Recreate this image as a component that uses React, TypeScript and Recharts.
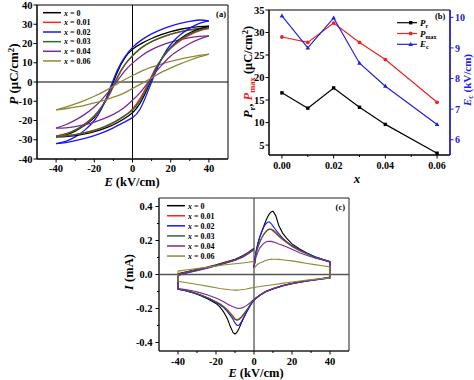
import React from 'react';
import { LineChart, Line, XAxis, YAxis, ReferenceLine, ReferenceArea, Legend } from 'recharts';

const FONT = '"Liberation Serif", "Times New Roman", Times, serif';

// compositions (x) and their colours
const X_LABELS = ['0', '0.01', '0.02', '0.03', '0.04', '0.06'];
const COLORS = ['#000000', '#ff1f1f', '#1515ff', '#2e6b2e', '#7a2898', '#8b8a35'];

// (a) P–E loops: descending branch (+40 -> -40) and ascending branch (-40 -> +40)
const E_DOWN = [40, 35, 30, 25, 20, 15, 10, 5, 0, -4, -8, -12, -16, -20, -25, -30, -35, -40];
const E_UP = [-40, -35, -30, -25, -20, -15, -10, -5, 0, 4, 8, 12, 16, 20, 25, 30, 35, 40];
const P_DOWN = [
  [29, 28.8, 28.3, 27.4, 26.2, 24.6, 22.6, 20.2, 17, 12.5, 5, -5, -13, -18.5, -22.5, -25.5, -27.5, -28.5],
  [27.8, 27.5, 26.9, 26, 24.8, 23.1, 21, 18, 13.5, 9, 2, -6.5, -13, -18, -22, -25, -27, -28],
  [31.8, 32.2, 31.5, 30.4, 29, 27.2, 25, 22, 18, 13, 6, -4, -13.5, -20, -25, -28.5, -30.8, -32],
  [28.3, 27.9, 27.2, 26.2, 24.9, 23.2, 21, 18, 13.8, 9, 2.5, -6, -12.5, -17.5, -21.8, -25, -27, -28.3],
  [24, 23.7, 23, 22, 20.7, 19, 16.8, 13.8, 9.8, 5.8, 0.5, -4.5, -9, -13, -16.8, -19.8, -22.2, -24],
  [14.5, 13.8, 12.9, 11.9, 10.7, 9.3, 7.7, 5.8, 3.4, 1.3, -1, -3.3, -5.5, -7.4, -9.5, -11.4, -13, -14.5],
];
const P_UP = [
  [-28.5, -28.4, -27.9, -27, -25.8, -24.2, -22.2, -19.5, -16, -11, -3, 6, 13, 18, 22.5, 25.5, 27.6, 29],
  [-28, -27.8, -27.3, -26.4, -25.2, -23.5, -21.2, -18.3, -14, -8.5, -1, 7, 13, 17.5, 21.5, 24.5, 26.5, 27.8],
  [-32, -31.5, -30.5, -29.3, -27.8, -26, -23.8, -21.2, -18.5, -14, -5, 5, 13.5, 19.5, 24.5, 28, 30.5, 31.8],
  [-28.3, -28, -27.3, -26.3, -25, -23.3, -21, -18, -14.5, -9.5, -2, 6.5, 13, 17.8, 22, 25, 27, 28.3],
  [-24, -23.8, -23.2, -22.2, -20.8, -19, -16.8, -13.8, -9.5, -5.5, -0.5, 5, 9.5, 13.5, 17, 20, 22.3, 24],
  [-14.5, -13.9, -13.1, -12.1, -10.9, -9.5, -7.9, -6, -3.4, -1.2, 1, 3.3, 5.5, 7.3, 9.4, 11.3, 13, 14.5],
];

// (b) parameters vs composition
const X_B = [0, 0.01, 0.02, 0.03, 0.04, 0.06];
const PR = [16.6, 13.2, 17.7, 13.4, 9.6, 3.2];
const PMAX = [29, 27.8, 32.1, 27.8, 24, 14.5];
const EC = [10.05, 9.0, 9.98, 8.5, 7.75, 6.5];

// (c) I–E loops, four segments per sample
const C_RISE_E = [0, 0.5, 1, 2, 3, 4, 5, 6, 7, 8, 9, 10, 11.5, 13, 15, 17, 20, 24, 28, 32, 36, 40];
const C_BACK_R_E = [40, 35, 30, 25, 20, 15, 10, 6, 3, 0];
const C_FALL_E = [-1, -2, -3, -4, -5, -6, -7, -8, -9, -10, -11, -12.5, -14, -16, -18, -20, -24, -28, -32, -36, -40];
const C_BACK_L_E = [-40, -35, -30, -25, -20, -15, -10, -6, -3, 0];
const I_RISE = [
  [0.04, 0.09, 0.13, 0.18, 0.22, 0.25, 0.28, 0.31, 0.335, 0.355, 0.368, 0.372, 0.345, 0.29, 0.245, 0.215, 0.18, 0.15, 0.125, 0.105, 0.09, 0.075],
  [0.04, 0.08, 0.12, 0.16, 0.19, 0.215, 0.235, 0.25, 0.262, 0.267, 0.264, 0.256, 0.24, 0.225, 0.205, 0.19, 0.165, 0.14, 0.12, 0.1, 0.087, 0.075],
  [0.04, 0.09, 0.13, 0.18, 0.22, 0.25, 0.275, 0.295, 0.307, 0.31, 0.3, 0.285, 0.262, 0.24, 0.215, 0.195, 0.17, 0.145, 0.125, 0.105, 0.09, 0.075],
  [0.04, 0.08, 0.12, 0.16, 0.19, 0.213, 0.232, 0.248, 0.26, 0.266, 0.267, 0.262, 0.248, 0.23, 0.21, 0.193, 0.168, 0.143, 0.122, 0.102, 0.088, 0.075],
  [0.04, 0.07, 0.1, 0.13, 0.155, 0.17, 0.182, 0.19, 0.194, 0.196, 0.195, 0.192, 0.187, 0.18, 0.172, 0.163, 0.148, 0.128, 0.112, 0.097, 0.085, 0.072],
  [0.035, 0.043, 0.05, 0.06, 0.067, 0.072, 0.077, 0.082, 0.085, 0.088, 0.089, 0.09, 0.09, 0.089, 0.087, 0.084, 0.08, 0.073, 0.065, 0.058, 0.051, 0.045],
];
const I_BACK_R = [
  [-0.015, -0.025, -0.033, -0.042, -0.052, -0.065, -0.083, -0.1, -0.122, -0.15],
  [-0.018, -0.026, -0.034, -0.043, -0.053, -0.066, -0.084, -0.102, -0.122, -0.148],
  [-0.02, -0.027, -0.035, -0.044, -0.054, -0.067, -0.085, -0.103, -0.124, -0.15],
  [-0.017, -0.026, -0.034, -0.043, -0.053, -0.066, -0.084, -0.101, -0.122, -0.147],
  [-0.02, -0.027, -0.035, -0.044, -0.054, -0.067, -0.085, -0.102, -0.122, -0.145],
  [-0.02, -0.025, -0.03, -0.037, -0.044, -0.052, -0.06, -0.066, -0.071, -0.076],
];
const I_FALL = [
  [-0.165, -0.18, -0.2, -0.22, -0.245, -0.27, -0.295, -0.32, -0.34, -0.35, -0.342, -0.305, -0.26, -0.22, -0.19, -0.17, -0.145, -0.125, -0.108, -0.095, -0.085],
  [-0.165, -0.18, -0.2, -0.215, -0.23, -0.245, -0.258, -0.266, -0.268, -0.26, -0.245, -0.225, -0.207, -0.188, -0.172, -0.16, -0.138, -0.12, -0.105, -0.093, -0.085],
  [-0.165, -0.185, -0.205, -0.225, -0.245, -0.265, -0.285, -0.3, -0.298, -0.285, -0.265, -0.24, -0.218, -0.195, -0.178, -0.163, -0.14, -0.122, -0.107, -0.095, -0.087],
  [-0.163, -0.178, -0.195, -0.21, -0.225, -0.24, -0.253, -0.262, -0.268, -0.265, -0.255, -0.233, -0.212, -0.19, -0.174, -0.161, -0.139, -0.121, -0.106, -0.094, -0.086],
  [-0.155, -0.165, -0.175, -0.183, -0.19, -0.195, -0.198, -0.2, -0.198, -0.194, -0.19, -0.182, -0.173, -0.16, -0.148, -0.138, -0.122, -0.108, -0.097, -0.089, -0.083],
  [-0.078, -0.08, -0.082, -0.085, -0.087, -0.088, -0.09, -0.091, -0.092, -0.092, -0.091, -0.09, -0.088, -0.085, -0.082, -0.078, -0.07, -0.062, -0.054, -0.047, -0.04],
];
const I_BACK_L = [
  [0.005, 0.018, 0.03, 0.043, 0.057, 0.073, 0.09, 0.11, 0.13, 0.155],
  [0.0, 0.014, 0.027, 0.04, 0.054, 0.07, 0.087, 0.106, 0.126, 0.15],
  [-0.005, 0.01, 0.024, 0.038, 0.052, 0.068, 0.086, 0.105, 0.125, 0.15],
  [0.0, 0.014, 0.027, 0.04, 0.054, 0.07, 0.087, 0.106, 0.126, 0.15],
  [-0.005, 0.01, 0.023, 0.036, 0.05, 0.066, 0.083, 0.102, 0.122, 0.145],
  [0.02, 0.028, 0.035, 0.043, 0.05, 0.057, 0.063, 0.068, 0.072, 0.077],
];

const txt = { fontFamily: FONT, fontWeight: 700 } as const;

const isMajor = (majors: number[], v: number) => majors.some((m) => Math.abs(m - v) < 1e-9);

// custom ticks: tickSize/tickMargin are 0 so (x, y) sit on the axis line
function bottomTick(majors: number[], fmt: (v: number) => string, gap: number, size: number) {
  return (p: any) => {
    const v = p.payload.value;
    const major = isMajor(majors, v);
    return (
      <g>
        <line x1={p.x} x2={p.x} y1={p.y} y2={p.y + (major ? 3.5 : 2)} stroke="#000" />
        {major && (
          <text x={p.x} y={p.y + gap} textAnchor="middle" fontSize={size} {...txt}>
            {fmt(v)}
          </text>
        )}
      </g>
    );
  };
}

function sideTick(side: 'left' | 'right', majors: number[], fmt: (v: number) => string, gap: number, size: number, color = '#000') {
  const s = side === 'left' ? -1 : 1;
  return (p: any) => {
    const v = p.payload.value;
    const major = isMajor(majors, v);
    return (
      <g>
        <line x1={p.x} x2={p.x + s * (major ? 3.5 : 2)} y1={p.y} y2={p.y} stroke={color} />
        {major && (
          <text x={p.x + s * gap} y={p.y + 3.6} textAnchor={side === 'left' ? 'end' : 'start'} fontSize={size} fill={color} {...txt}>
            {fmt(v)}
          </text>
        )}
      </g>
    );
  };
}

function LoopLegend({ step }: { step: number }) {
  return (
    <svg width={80} height={66} style={{ display: 'block' }}>
      {X_LABELS.map((lab, i) => {
        const y = 5.7 + i * step;
        return (
          <g key={lab}>
            <line x1={2} x2={20} y1={y} y2={y} stroke={COLORS[i]} strokeWidth={1.5} />
            <text x={23} y={y + 2.8} fontSize={8} {...txt}>
              <tspan fontStyle="italic">x</tspan>
              {` = ${lab}`}
            </text>
          </g>
        );
      })}
    </svg>
  );
}

const EUnit = (x: number, y: number) => (
  <text x={x} y={y} textAnchor="middle" fontSize={12.5} {...txt}>
    <tspan fontStyle="italic">E</tspan>
    {' (kV/cm)'}
  </text>
);

function PanelA() {
  const fmt = (v: number) => String(v);
  return (
    <LineChart width={240} height={190} margin={{ top: 5, right: 12, left: 0, bottom: 0 }}>
      <XAxis
        type="number"
        dataKey="e"
        domain={[-50, 50]}
        allowDataOverflow
        ticks={[-40, -30, -20, -10, 0, 10, 20, 30, 40]}
        interval={0}
        tickSize={0}
        tickMargin={0}
        tickLine={false}
        axisLine={{ stroke: '#000' }}
        height={31}
        tick={bottomTick([-40, -20, 0, 20, 40], fmt, 12.5, 10.5)}
        label={() => EUnit(132, 186)}
      />
      <YAxis
        type="number"
        domain={[-40, 40]}
        allowDataOverflow
        ticks={[-40, -30, -20, -10, 0, 10, 20, 30, 40]}
        interval={0}
        tickSize={0}
        tickMargin={0}
        tickLine={false}
        axisLine={{ stroke: '#000' }}
        width={37}
        tick={sideTick('left', [-40, -30, -20, -10, 0, 10, 20, 30, 40], fmt, 4.5, 10.5)}
        label={() => (
          <text x={18} y={74} transform="rotate(-90 18 74)" textAnchor="middle" fontSize={13} {...txt}>
            <tspan fontStyle="italic">P</tspan>
            {' (μC/cm'}
            <tspan dy={-4.5} fontSize={9}>2</tspan>
            <tspan dy={4.5}>)</tspan>
          </text>
        )}
      />
      <ReferenceArea x1={-50} x2={50} y1={-40} y2={40} fill="none" stroke="#000" strokeWidth={1} />
      <ReferenceLine x={0} stroke="#000" strokeWidth={1} />
      <ReferenceLine y={0} stroke="#000" strokeWidth={1} />
      {X_LABELS.map((lab, k) => (
        <Line
          key={`d${lab}`}
          data={E_DOWN.map((e, j) => ({ e, p: P_DOWN[k][j] }))}
          dataKey="p"
          type="natural"
          stroke={COLORS[k]}
          strokeWidth={1.3}
          dot={false}
          legendType="none"
          isAnimationActive={false}
        />
      ))}
      {X_LABELS.map((lab, k) => (
        <Line
          key={`u${lab}`}
          data={E_UP.map((e, j) => ({ e, p: P_UP[k][j] }))}
          dataKey="p"
          type="natural"
          stroke={COLORS[k]}
          strokeWidth={1.3}
          dot={false}
          legendType="none"
          isAnimationActive={false}
        />
      ))}
      <ReferenceLine
        y={40}
        stroke="none"
        label={() => (
          <text x={226} y={17} textAnchor="end" fontSize={8.5} {...txt}>
            (a)
          </text>
        )}
      />
      <Legend
        layout="vertical"
        align="center"
        verticalAlign="middle"
        wrapperStyle={{ left: 41, top: 7, width: 80, height: 66 }}
        content={() => <LoopLegend step={9.65} />}
      />
    </LineChart>
  );
}

const squareDot = (color: string) => (p: any) => (
  <rect key={p.index} x={p.cx - 1.7} y={p.cy - 1.7} width={3.4} height={3.4} fill={color} />
);
const circleDot = (color: string) => (p: any) => <circle key={p.index} cx={p.cx} cy={p.cy} r={1.9} fill={color} />;
const triDot = (color: string) => (p: any) => (
  <path key={p.index} d={`M${p.cx},${p.cy - 2.4}L${p.cx + 2.3},${p.cy + 1.6}L${p.cx - 2.3},${p.cy + 1.6}Z`} fill={color} />
);

const BLUE_B = '#2020e0';
const RED_B = '#ee2222';

function ParamLegend() {
  const rows = [
    { c: '#000', dot: 'sq', main: 'P', sub: 'r' },
    { c: RED_B, dot: 'ci', main: 'P', sub: 'max' },
    { c: BLUE_B, dot: 'tr', main: 'E', sub: 'c' },
  ];
  return (
    <svg width={70} height={40} style={{ display: 'block' }}>
      {rows.map((r, i) => {
        const y = 7.7 + i * 10.8;
        return (
          <g key={r.sub}>
            <line x1={0} x2={20} y1={y} y2={y} stroke={r.c} strokeWidth={1.2} />
            {r.dot === 'sq' && <rect x={12} y={y - 1.7} width={3.4} height={3.4} fill={r.c} />}
            {r.dot === 'ci' && <circle cx={13.7} cy={y} r={1.9} fill={r.c} />}
            {r.dot === 'tr' && <path d={`M13.7,${y - 2.4}L16,${y + 1.6}L11.4,${y + 1.6}Z`} fill={r.c} />}
            <text x={23} y={y + 3} fontSize={9} {...txt}>
              <tspan fontStyle="italic">{r.main}</tspan>
              <tspan fontSize={6} dy={2}>{r.sub}</tspan>
            </text>
          </g>
        );
      })}
    </svg>
  );
}

function PanelB() {
  const rows = X_B.map((x, i) => ({ x, pr: PR[i], pmax: PMAX[i], ec: EC[i] }));
  return (
    <LineChart width={234} height={190} data={rows} margin={{ top: 10, right: 0, left: 0, bottom: 0 }}>
      <XAxis
        type="number"
        dataKey="x"
        domain={[-0.005, 0.065]}
        allowDataOverflow
        ticks={[0, 0.01, 0.02, 0.03, 0.04, 0.05, 0.06]}
        interval={0}
        tickSize={0}
        tickMargin={0}
        tickLine={false}
        axisLine={{ stroke: '#000' }}
        height={35}
        tick={bottomTick([0, 0.02, 0.04, 0.06], (v) => v.toFixed(2), 14, 10)}
        label={() => (
          <text x={117} y={183} textAnchor="middle" fontSize={13} fontStyle="italic" {...txt}>
            x
          </text>
        )}
      />
      <YAxis
        yAxisId="l"
        type="number"
        domain={[2.8, 35]}
        allowDataOverflow
        ticks={[5, 10, 15, 20, 25, 30, 35]}
        interval={0}
        tickSize={0}
        tickMargin={0}
        tickLine={false}
        axisLine={{ stroke: '#000' }}
        width={29}
        tick={sideTick('left', [5, 10, 15, 20, 25, 30, 35], String, 4.5, 10.5)}
        label={() => (
          <text x={12} y={72} transform="rotate(-90 12 72)" textAnchor="middle" fontSize={12.5} {...txt}>
            <tspan fontStyle="italic">P</tspan>
            <tspan fontSize={8.5} dy={2.5}>r</tspan>
            <tspan dy={-2.5}>, </tspan>
            <tspan fontStyle="italic" fill={RED_B}>P</tspan>
            <tspan fontSize={8.5} dy={2.5} fill={RED_B}>max</tspan>
            <tspan dy={-2.5}>{' (μC/cm'}</tspan>
            <tspan dy={-4.5} fontSize={8.5}>2</tspan>
            <tspan dy={4.5}>)</tspan>
          </text>
        )}
      />
      <YAxis
        yAxisId="r"
        orientation="right"
        type="number"
        domain={[5.5, 10.24]}
        allowDataOverflow
        ticks={[6, 7, 8, 9, 10]}
        interval={0}
        tickSize={0}
        tickMargin={0}
        tickLine={false}
        axisLine={{ stroke: BLUE_B }}
        width={24}
        tick={sideTick('right', [6, 7, 8, 9, 10], String, 5, 10, BLUE_B)}
        label={() => (
          <text x={230.5} y={80} transform="rotate(-90 230.5 80)" textAnchor="middle" fontSize={11} fill={BLUE_B} {...txt}>
            <tspan fontStyle="italic">E</tspan>
            <tspan fontSize={7.5} dy={2}>c</tspan>
            <tspan dy={-2}>{' (kV/cm)'}</tspan>
          </text>
        )}
      />
      <ReferenceArea yAxisId="l" x1={-0.005} x2={0.065} y1={2.8} y2={35} fill="none" stroke="#000" strokeWidth={1} />
      <Line yAxisId="l" dataKey="pr" type="linear" stroke="#000" strokeWidth={1.2} dot={squareDot('#000')} isAnimationActive={false} />
      <Line yAxisId="l" dataKey="pmax" type="linear" stroke={RED_B} strokeWidth={1.2} dot={circleDot(RED_B)} isAnimationActive={false} />
      <Line yAxisId="r" dataKey="ec" type="linear" stroke={BLUE_B} strokeWidth={1.2} dot={triDot(BLUE_B)} isAnimationActive={false} />
      <ReferenceLine
        yAxisId="r"
        x={0.065}
        stroke={BLUE_B}
        label={() => (
          <text x={195} y={18.5} fontSize={8.5} {...txt}>
            (b)
          </text>
        )}
      />
      <Legend
        layout="vertical"
        align="center"
        verticalAlign="middle"
        wrapperStyle={{ left: 157, top: 15, width: 70, height: 40 }}
        content={() => <ParamLegend />}
      />
    </LineChart>
  );
}

function PanelC() {
  const fmt = (v: number) => (v === 0 ? '0.0' : v.toFixed(1));
  return (
    <LineChart width={280} height={195} margin={{ top: 13, right: 31, left: 0, bottom: 0 }}>
      <XAxis
        type="number"
        dataKey="e"
        domain={[-50, 50]}
        allowDataOverflow
        ticks={[-40, -30, -20, -10, 0, 10, 20, 30, 40]}
        interval={0}
        tickSize={0}
        tickMargin={0}
        tickLine={false}
        axisLine={{ stroke: '#222' }}
        height={29}
        tick={bottomTick([-40, -20, 0, 20, 40], String, 14, 10.5)}
        label={() => EUnit(156, 192)}
      />
      <YAxis
        type="number"
        domain={[-0.45, 0.45]}
        allowDataOverflow
        ticks={[-0.4, -0.3, -0.2, -0.1, 0, 0.1, 0.2, 0.3, 0.4]}
        interval={0}
        tickSize={0}
        tickMargin={0}
        tickLine={false}
        axisLine={{ stroke: '#222' }}
        width={59}
        tick={sideTick('left', [-0.4, -0.2, 0, 0.2, 0.4], fmt, 6.5, 10.5)}
        label={() => (
          <text x={33} y={87} transform="rotate(-90 33 87)" textAnchor="middle" fontSize={12.5} {...txt}>
            <tspan fontStyle="italic">I</tspan>
            {' (mA)'}
          </text>
        )}
      />
      <ReferenceArea x1={-50} x2={50} y1={-0.45} y2={0.45} fill="none" stroke="#222" strokeWidth={1} />
      <ReferenceLine x={0} stroke="#555" strokeWidth={1.3} />
      <ReferenceLine y={0} stroke="#555" strokeWidth={1.3} />
      {X_LABELS.map((lab, k) => (
        <Line
          key={lab}
          data={[
            ...C_RISE_E.map((e, j) => ({ e, i: I_RISE[k][j] })),
            ...C_BACK_R_E.map((e, j) => ({ e, i: I_BACK_R[k][j] })),
            ...C_FALL_E.map((e, j) => ({ e, i: I_FALL[k][j] })),
            ...C_BACK_L_E.map((e, j) => ({ e, i: I_BACK_L[k][j] })),
          ]}
          dataKey="i"
          type="linear"
          stroke={COLORS[k]}
          strokeWidth={1.1}
          dot={false}
          isAnimationActive={false}
        />
      ))}
      <ReferenceLine
        y={0.45}
        stroke="none"
        label={() => (
          <text x={245} y={24.5} textAnchor="end" fontSize={8.5} {...txt}>
            (c)
          </text>
        )}
      />
      <Legend
        layout="vertical"
        align="center"
        verticalAlign="middle"
        wrapperStyle={{ left: 65, top: 15, width: 80, height: 66 }}
        content={() => <LoopLegend step={10.07} />}
      />
    </LineChart>
  );
}

export default function App() {
  return (
    <div style={{ position: 'absolute', left: 0, top: 0, width: 474, height: 380, background: '#fff', overflow: 'hidden' }}>
      <div style={{ position: 'absolute', left: 0, top: 0 }}>
        <PanelA />
      </div>
      <div style={{ position: 'absolute', left: 240, top: 0 }}>
        <PanelB />
      </div>
      <div style={{ position: 'absolute', left: 100, top: 185 }}>
        <PanelC />
      </div>
    </div>
  );
}
